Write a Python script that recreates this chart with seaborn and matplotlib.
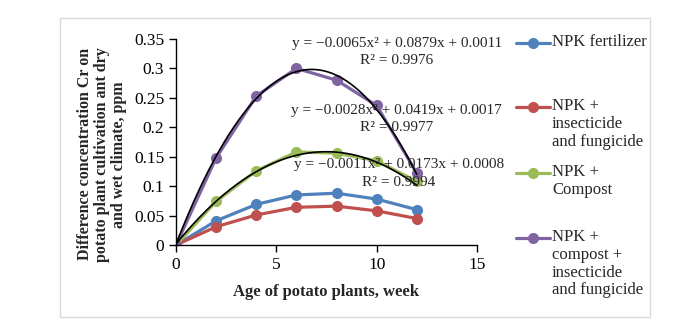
import matplotlib
matplotlib.use("Agg")
import matplotlib.pyplot as plt
import numpy as np
import pandas as pd
import seaborn as sns
from matplotlib.lines import Line2D
from matplotlib.patches import Rectangle
from matplotlib.ticker import FuncFormatter

weeks = [0, 2, 4, 6, 8, 10, 12]
npk_fertilizer = [0, 0.041, 0.069, 0.085, 0.088, 0.078, 0.060]
npk_insect_fung = [0, 0.031, 0.051, 0.064, 0.066, 0.058, 0.045]
npk_compost = [0, 0.074, 0.126, 0.158, 0.156, 0.143, 0.108]
npk_compost_insect_fung = [0, 0.148, 0.253, 0.300, 0.280, 0.237, 0.122]

series_names = ["NPK fertilizer", "NPK + insecticide and fungicide",
                "NPK + Compost", "NPK + compost + insecticide and fungicide"]
legend_labels = ["NPK fertilizer", "NPK +\ninsecticide\nand fungicide",
                 "NPK +\nCompost", "NPK +\ncompost +\ninsecticide\nand fungicide"]
colors = ["#4F81BD", "#C0504D", "#9BBB59", "#8064A2"]

# trendline coefficients (as printed on the chart)
trend_purple = [-0.0065, 0.0879, 0.0011]
trend_green = [-0.0028, 0.0419, 0.0017]
equations = [
    ("y = \u22120.0065x\u00b2 + 0.0879x + 0.0011", "R\u00b2 = 0.9976"),
    ("y = \u22120.0028x\u00b2 + 0.0419x + 0.0017", "R\u00b2 = 0.9977"),
    ("y = \u22120.0011x\u00b2 + 0.0173x + 0.0008", "R\u00b2 = 0.9994"),
]

sns.set_theme(style="white")
plt.rcParams["font.family"] = ["Liberation Serif", "DejaVu Serif"]

df = pd.DataFrame({
    "week": weeks * 4,
    "value": npk_fertilizer + npk_insect_fung + npk_compost + npk_compost_insect_fung,
    "series": sum([[n] * len(weeks) for n in series_names], []),
})

fig = plt.figure(figsize=(6.91, 3.27), dpi=100)
ax = fig.add_axes([0.2547, 0.2508, 0.4356, 0.6300])

sns.lineplot(data=df, x="week", y="value", hue="series", hue_order=series_names,
             palette=colors, marker="o", markersize=8, markeredgewidth=0,
             linewidth=2.3, legend=False, ax=ax)

xs = np.linspace(0, 12, 200)
ax.plot(xs, np.polyval(trend_purple, xs), color="black", lw=1.2, zorder=5)
ax.plot(xs, np.polyval(trend_green, xs), color="black", lw=1.2, zorder=5)

ax.set_xlim(0, 15)
ax.set_ylim(0, 0.35)
ax.set_xticks([0, 5, 10, 15])
ax.set_yticks(np.arange(0, 0.351, 0.05))
ax.yaxis.set_major_formatter(FuncFormatter(lambda v, p: f"{v:g}" if v else "0"))
ax.tick_params(axis="both", direction="out", length=5, width=1, color="black",
               labelsize=12.5, colors="black", left=True, bottom=True)
for s in ["top", "right"]:
    ax.spines[s].set_visible(False)
for s in ["left", "bottom"]:
    ax.spines[s].set_color("black")
    ax.spines[s].set_linewidth(1)

ax.set_xlabel("Age of potato plants, week", fontsize=12, fontweight="bold", labelpad=8)
ax.set_ylabel("Difference concentration Cr on\npotato plant cultivation ant dry\nand wet climate, ppm",
              fontsize=11.5, fontweight="bold", linespacing=1.1)
ax.yaxis.set_label_coords(-0.163, 0.44)

eq_pos = [(11.0, 0.343, 0.313), (11.0, 0.229, 0.199), (11.1, 0.136, 0.107)]
for (eq, r2), (x, y1, y2) in zip(equations, eq_pos):
    ax.text(x, y1, eq, ha="center", va="center", fontsize=11, clip_on=False, zorder=6)
    ax.text(x, y2, r2, ha="center", va="center", fontsize=11, clip_on=False, zorder=6)

# legend, drawn by hand so the marker sits on the first text line
leg_y = [43, 107, 173, 238]
for lab, c, py in zip(legend_labels, colors, leg_y):
    yf = 1 - py / 327
    fig.add_artist(Line2D([516 / 691, 550 / 691], [yf, yf], color=c, lw=2.3,
                          transform=fig.transFigure))
    fig.add_artist(Line2D([533 / 691], [yf], color=c, marker="o", markersize=8,
                          markeredgewidth=0, transform=fig.transFigure))
    fig.text(552 / 691, yf + 9 / 327, lab, ha="left", va="top", fontsize=12,
             linespacing=1.15)

fig.add_artist(Rectangle((60 / 691, 1 - 317 / 327), 590 / 691, 299 / 327,
                         transform=fig.transFigure, fill=False, edgecolor="#d9d9d9", lw=1))

fig.savefig("out.png", dpi=100)
